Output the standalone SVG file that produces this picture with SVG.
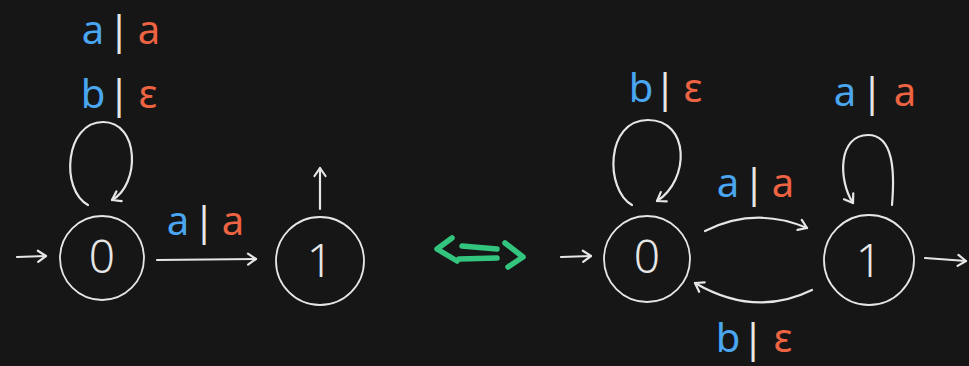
<svg xmlns="http://www.w3.org/2000/svg" width="969" height="366" viewBox="0 0 969 366">
  <style>
    .bg { fill: #161616; }
    .state { fill: none; stroke: #e6e6e6; stroke-width: 1.8; }
    .edge { fill: none; stroke: #e6e6e6; stroke-width: 2.2; stroke-linecap: round; }
    .eq { fill: none; stroke: #33c47e; stroke-width: 5.5; stroke-linecap: round; stroke-linejoin: round; }
    .digit { font-family: "Noto Sans", "DejaVu Sans", sans-serif; font-size: 46px; fill: #e6e6e6; text-anchor: middle; font-weight: 300; }
    .lbl { font-family: "Noto Sans", "DejaVu Sans", sans-serif; font-size: 40px; text-anchor: middle; }
    .in { fill: #4aa6f0; }
    .sep { fill: #e6e6e6; }
    .out { fill: #ee6342; }
  </style>
  <defs>
    <marker id="head" markerUnits="userSpaceOnUse" markerWidth="20" markerHeight="20" refX="0" refY="0" viewBox="-12 -10 20 20" orient="auto" overflow="visible">
      <path d="M-8,-5.5 L0,0 L-8,5.5" fill="none" stroke="#e6e6e6" stroke-width="2.2" stroke-linecap="round" stroke-linejoin="round"/>
    </marker>
  </defs>

  <rect class="bg" x="0" y="0" width="969" height="366"/>

  <!-- left machine -->
  <g id="L-q0">
    <circle class="state" cx="102" cy="258" r="42"/>
    <text class="digit" x="102" y="273">0</text>
  </g>
  <g id="L-q1">
    <circle class="state" cx="320" cy="261" r="44"/>
    <text class="digit" x="320" y="277">1</text>
  </g>

  <!-- right machine -->
  <g id="R-q0">
    <circle class="state" cx="647" cy="259" r="43"/>
    <text class="digit" x="647" y="273">0</text>
  </g>
  <g id="R-q1">
    <circle class="state" cx="869" cy="260" r="45"/>
    <text class="digit" x="869" y="277">1</text>
  </g>

  <!-- equivalence sign -->
  <g id="equiv">
    <path class="eq" d="M452,238 L437,249 L457,261"/>
    <path class="eq" d="M462,246 L497,249"/>
    <path class="eq" d="M459,259 L497,258"/>
    <path class="eq" d="M505,243 L523,257 L508,267"/>
  </g>

  <g id="connectors">
    <!-- left -->
    <path class="edge" d="M17,257 L46,256" marker-end="url(#head)"/>
    <path class="edge" d="M88,205 C60,190 65,122 103,122 C140,122 140,185 112,200" marker-end="url(#head)"/>
    <path class="edge" d="M157,260 L256,259" marker-end="url(#head)"/>
    <path class="edge" d="M320,209 L320,168" marker-end="url(#head)"/>
    <!-- right -->
    <path class="edge" d="M561,257 L591,256" marker-end="url(#head)"/>
    <path class="edge" d="M632,205 C605,190 605,120 648,120 C690,120 690,180 657,201" marker-end="url(#head)"/>
    <path class="edge" d="M892,205 C895,170 893,135 868,135 C838,135 838,180 853,203" marker-end="url(#head)"/>
    <path class="edge" d="M705,231 Q755,206 807,228" marker-end="url(#head)"/>
    <path class="edge" d="M812,290 Q755,318 695,283" marker-end="url(#head)"/>
    <path class="edge" d="M925,258 L966,261" marker-end="url(#head)"/>
  </g>

  <!-- transition labels -->
  <g id="labels">
    <text class="lbl"><tspan class="in" x="93" y="44">a</tspan><tspan class="sep" x="119" y="44">|</tspan><tspan class="out" x="149" y="44">a</tspan></text>
    <text class="lbl"><tspan class="in" x="93" y="108">b</tspan><tspan class="sep" x="119" y="108">|</tspan><tspan class="out" x="148" y="108">ε</tspan></text>
    <text class="lbl"><tspan class="in" x="178" y="235">a</tspan><tspan class="sep" x="204" y="235">|</tspan><tspan class="out" x="233" y="235">a</tspan></text>

    <text class="lbl"><tspan class="in" x="641" y="102">b</tspan><tspan class="sep" x="665" y="102">|</tspan><tspan class="out" x="693" y="102">ε</tspan></text>
    <text class="lbl"><tspan class="in" x="845" y="106">a</tspan><tspan class="sep" x="872" y="106">|</tspan><tspan class="out" x="905" y="106">a</tspan></text>
    <text class="lbl"><tspan class="in" x="728" y="197">a</tspan><tspan class="sep" x="754" y="197">|</tspan><tspan class="out" x="783" y="197">a</tspan></text>
    <text class="lbl"><tspan class="in" x="728" y="352">b</tspan><tspan class="sep" x="753" y="352">|</tspan><tspan class="out" x="783" y="352">ε</tspan></text>
  </g>
</svg>
